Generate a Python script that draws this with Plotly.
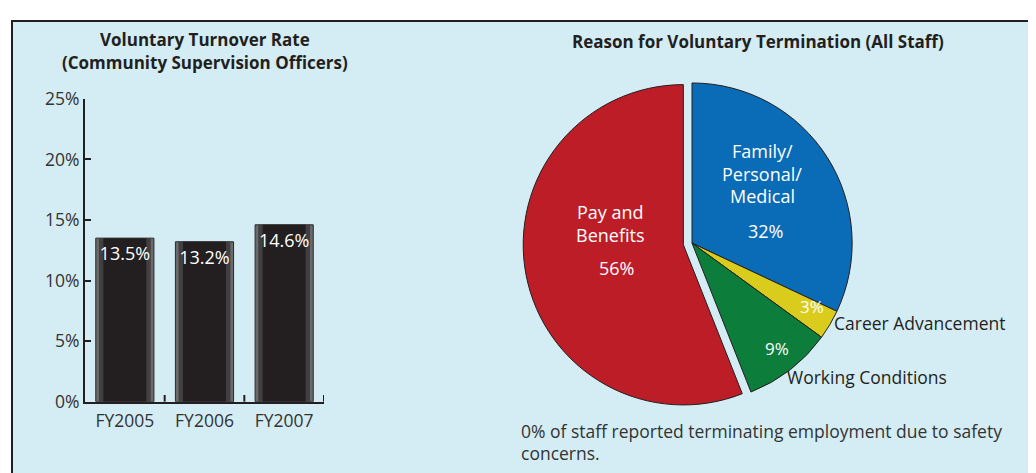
import plotly.graph_objects as go

W, H = 1036, 473
OFF = 8  # page body margin offset
def px(x): return (x - OFF) / W
def py(y): return 1 - (y - OFF) / H

# ---- data ----
years = ["FY2005", "FY2006", "FY2007"]
turnover = [13.5, 13.2, 14.6]
y_ticks = [0, 5, 10, 15, 20, 25]

reasons = ["Family/<br>Personal/<br>Medical", "Career Advancement", "Working Conditions", "Pay and<br>Benefits"]
shares = [32, 3, 9, 56]
slice_colors = ["#0a6cb6", "#d9cc1c", "#0d7d3c", "#bd1d27"]

FONT = "Open Sans"
TXT = "#333333"
DARK = "#231f20"
FS = 17.5

fig = go.Figure()

# bars: layered to mimic the shaded edges
for wdt, col, line in [(0.73, "#6a6a6c", "#2a2a2a"), (0.65, "#423f40", None), (0.54, "#231f20", None)]:
    fig.add_trace(go.Bar(
        x=list(range(len(years))), y=turnover, width=wdt,
        marker=dict(color=col, line=dict(color=line or col, width=1 if line else 0)),
        xaxis="x", yaxis="y", showlegend=False, hoverinfo="skip"))
fig.add_trace(go.Bar(
    x=list(range(len(years))), y=turnover, width=0.73,
    marker=dict(color="rgba(0,0,0,0)", line=dict(width=0)),
    text=[f"{v}%" for v in turnover], textposition="inside", insidetextanchor="end",
    constraintext="none",
    textfont=dict(color="white", size=18, family=FONT), textangle=0,
    xaxis="x", yaxis="y", showlegend=False, hoverinfo="skip"))

fig.add_trace(go.Pie(
    labels=[r.replace("<br>", " ") for r in reasons], values=shares, sort=False,
    direction="clockwise", rotation=0,
    pull=[0, 0, 0, 0.055],
    marker=dict(colors=slice_colors, line=dict(color=DARK, width=1)),
    textinfo="none", showlegend=False, hoverinfo="skip",
    domain=dict(x=[px(514), px(870)], y=[py(420), py(64)])))

fig.update_layout(
    width=W, height=H, margin=dict(l=0, r=0, t=0, b=0),
    paper_bgcolor="white", plot_bgcolor="rgba(0,0,0,0)",
    barmode="overlay", font=dict(family=FONT, color=TXT),
    xaxis=dict(domain=[px(85), px(324)], range=[-0.5, 2.5],
               tickmode="array", tickvals=list(range(len(years))), ticktext=years,
               showgrid=False, zeroline=False, showline=True, linecolor=DARK, linewidth=2,
               ticks="", ticklabelstandoff=2,
               tickfont=dict(size=FS, color=TXT, family=FONT), fixedrange=True),
    yaxis=dict(domain=[py(409), py(90)], range=[0, 25],
               tickmode="array", tickvals=y_ticks, ticktext=[f"{t}%" for t in y_ticks],
               showgrid=False, zeroline=False, showline=True, linecolor=DARK, linewidth=2,
               ticks="inside", ticklen=6, tickwidth=2, tickcolor=DARK,
               tickfont=dict(size=FS, color=TXT, family=FONT), fixedrange=True),
)

shapes = [dict(type="rect", xref="paper", yref="paper", x0=px(12), x1=px(1031), y0=-0.1, y1=py(8),
               fillcolor="#d4edf4", line=dict(color=DARK, width=2), layer="below")]
# category boundary ticks on x axis (upward)
for b in [0.5, 1.5, 2.5]:
    shapes.append(dict(type="line", xref="x", yref="paper", x0=b, x1=b, y0=py(409), y1=py(402),
                       line=dict(color=DARK, width=2)))
fig.update_layout(shapes=shapes)

ann = []
def A(x, y, text, size=FS, color=TXT, bold=False, xanchor="center"):
    if bold:
        text = f"<b>{text}</b>"
    ann.append(dict(x=px(x), y=py(y), xref="paper", yref="paper", text=text, showarrow=False,
                    xanchor=xanchor, yanchor="middle", font=dict(size=size, color=color, family=FONT)))

A(205, 28, "Voluntary Turnover Rate", 17, DARK, True)
A(205, 52, "(Community Supervision Officers)", 17, DARK, True)
A(758, 30, "Reason for Voluntary Termination (All Staff)", 17, DARK, True)

# pie labels
lines0 = reasons[0].split("<br>")
for ln, yy in zip(lines0, [145, 169, 192]):
    A(762, yy, ln, 18, "white")
A(765, 229, f"{shares[0]}%", 18, "white")
lines3 = reasons[3].split("<br>")
for ln, yy in zip(lines3, [209, 233]):
    A(610, yy, ln, 18, "white")
A(616, 268, f"{shares[3]}%", 18, "white")
A(812, 309, f"{shares[1]}%", 17, "white")
A(777, 353, f"{shares[2]}%", 17, "white")
A(832, 326, reasons[1], FS, DARK, xanchor="left")
A(785, 383, reasons[2], FS, DARK, xanchor="left")

A(519, 440, "0% of staff reported terminating employment due to safety", FS, TXT, xanchor="left")
A(519, 463, "concerns.", FS, TXT, xanchor="left")

fig.update_layout(annotations=ann)
fig.write_html("out.html")
